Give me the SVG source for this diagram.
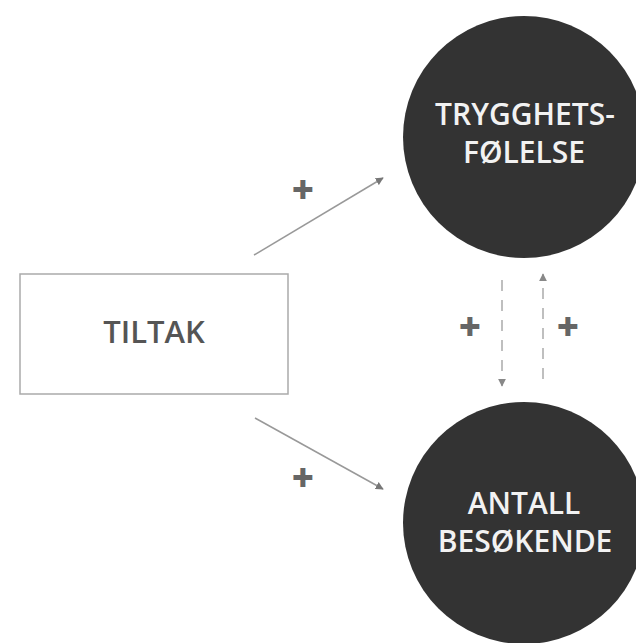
<svg xmlns="http://www.w3.org/2000/svg" width="636" height="643" viewBox="0 0 636 643">
  <style>
    .circle { fill: #333333; }
    .ctext { fill: #f2f2f2; font-family: "Open Sans", "Liberation Sans", sans-serif; font-weight: 600; font-size: 30px; text-anchor: middle; }
    .box { fill: #ffffff; stroke: #aaaaaa; stroke-width: 1.5; }
    .btext { fill: #555555; font-family: "Open Sans", "Liberation Sans", sans-serif; font-weight: 600; font-size: 31px; text-anchor: middle; }
    .solid { stroke: #999999; stroke-width: 1.5; fill: none; }
    .dashed { stroke: #aaaaaa; stroke-width: 1.5; fill: none; stroke-dasharray: 11 9; }
    .plus { fill: #666666; font-family: "Open Sans", "Liberation Sans", sans-serif; font-weight: 800; font-size: 38px; text-anchor: middle; }
  </style>
  <defs>
    <marker id="head" viewBox="0 0 10 10" refX="9" refY="5" markerWidth="8" markerHeight="8" markerUnits="userSpaceOnUse" orient="auto">
      <path d="M0,0 L10,5 L0,10 z" fill="#777777"/>
    </marker>
    <marker id="headLight" viewBox="0 0 10 10" refX="9" refY="5" markerWidth="8" markerHeight="8" markerUnits="userSpaceOnUse" orient="auto">
      <path d="M0,0 L10,5 L0,10 z" fill="#888888"/>
    </marker>
  </defs>
  <rect width="636" height="643" fill="#ffffff"/>

  <g id="connectors">
    <line class="solid" x1="254" y1="255" x2="383" y2="178" marker-end="url(#head)"/>
    <line class="solid" x1="255" y1="418" x2="383" y2="489" marker-end="url(#head)"/>
    <line class="dashed" x1="502" y1="280" x2="502" y2="386" marker-end="url(#headLight)"/>
    <line class="dashed" x1="543" y1="379" x2="543" y2="274" marker-end="url(#headLight)"/>
    <text class="plus" x="303" y="203">+</text>
    <text class="plus" x="303" y="491">+</text>
    <text class="plus" x="470" y="340">+</text>
    <text class="plus" x="568" y="340">+</text>
  </g>

  <g id="tiltak">
    <rect class="box" x="20" y="274" width="268" height="120"/>
    <text class="btext" x="154" y="343">TILTAK</text>
  </g>

  <g id="trygghetsfolelse">
    <circle class="circle" cx="524" cy="137" r="121"/>
    <text class="ctext" x="525" y="125">TRYGGHETS-</text>
    <text class="ctext" x="524" y="163">FØLELSE</text>
  </g>

  <g id="antall-besokende">
    <circle class="circle" cx="524" cy="523" r="121"/>
    <text class="ctext" x="524" y="514">ANTALL</text>
    <text class="ctext" x="525" y="552">BESØKENDE</text>
  </g>
</svg>
